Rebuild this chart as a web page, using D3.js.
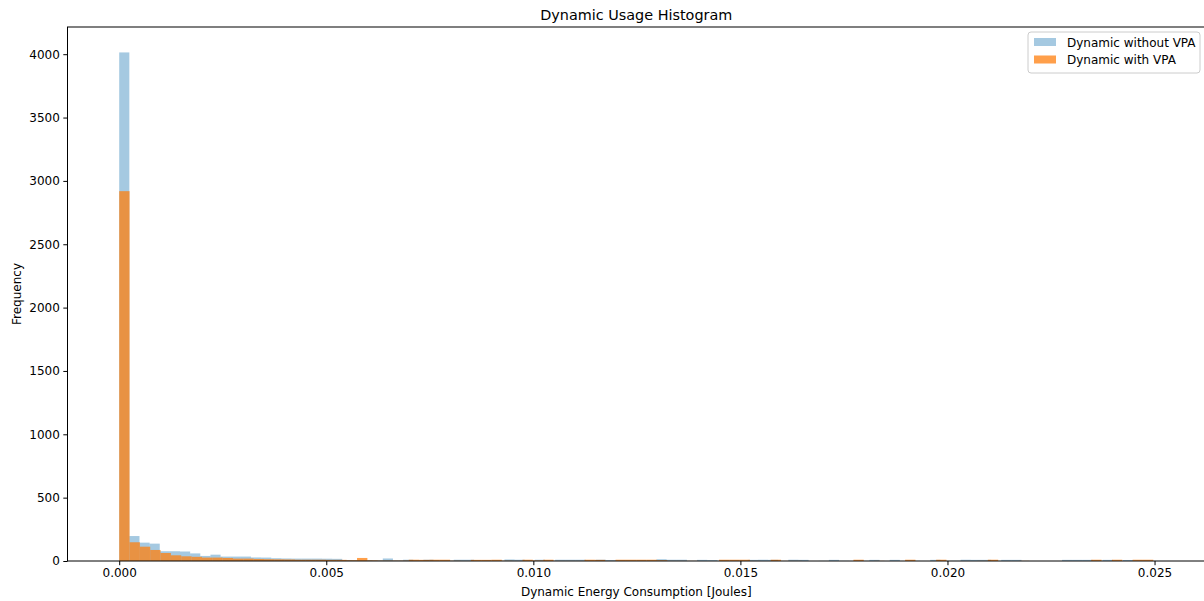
<!DOCTYPE html>
<html>
<head>
<meta charset="utf-8">
<script src="https://cdn.jsdelivr.net/npm/d3@7"></script>
<style>
  html, body { margin: 0; padding: 0; background: #fff; }
  svg { display: block; font-family: "DejaVu Sans", sans-serif; }
</style>
</head>
<body>
<div id="chart"></div>
<script>
// Series names
const seriesNames = ['Dynamic without VPA', 'Dynamic with VPA'];

// Value range covered by each series' 100 bins (Joules)
const withoutRange = [0, 0.02448];
const withRange = [0, 0.02497];

// Counts per bin
const withoutCounts = [
  4014, 197, 145, 137, 77, 77, 75, 60, 40, 50,
  35, 35, 35, 28, 27, 22, 20, 19, 19, 19,
  18, 17, 8, 7, 7, 5, 20, 4, 10, 2,
  10, 1, 2, 10, 10, 1, 2, 1, 12, 10,
  1, 10, 2, 10, 10, 10, 1, 10, 8, 2,
  1, 2, 1, 14, 10, 10, 1, 9, 7, 1,
  0, 1, 9, 10, 9, 0, 10, 9, 0, 1,
  9, 1, 0, 1, 9, 0, 9, 0, 1, 0,
  9, 0, 1, 10, 9, 9, 1, 9, 9, 0,
  0, 0, 0, 9, 9, 9, 1, 9, 0, 8
];
const withCounts = [
  2919, 148, 113, 87, 63, 45, 37, 33, 27, 27,
  24, 19, 19, 16, 14, 13, 12, 10, 10, 10,
  9, 9, 6, 24, 5, 3, 3, 3, 10, 9,
  10, 10, 2, 1, 9, 9, 10, 2, 1, 10,
  4, 10, 1, 1, 1, 10, 9, 1, 10, 10,
  10, 10, 6, 1, 1, 1, 0, 0, 10, 10,
  10, 1, 0, 10, 1, 1, 0, 0, 0, 0,
  0, 10, 0, 1, 0, 0, 10, 0, 0, 10,
  0, 0, 0, 1, 10, 0, 0, 1, 0, 0,
  0, 0, 0, 0, 10, 0, 10, 0, 10, 10
];

// Tick labels
const xTicks = [0, 0.005, 0.010, 0.015, 0.020, 0.025];
const yTicks = [0, 500, 1000, 1500, 2000, 2500, 3000, 3500, 4000];

// turn counts + range into bins
function makeBins(counts, range) {
  const w = (range[1] - range[0]) / counts.length;
  return counts.map((c, i) => ({ x0: range[0] + i * w, x1: range[0] + (i + 1) * w, count: c }));
}

const series = [
  { name: seriesNames[0], bins: makeBins(withoutCounts, withoutRange), color: '#1f77b4', opacity: 0.4 },
  { name: seriesNames[1], bins: makeBins(withCounts, withRange), color: '#ff7f0e', opacity: 0.75 }
];

// Dimensions
const W = 1204, H = 601;
const margin = { top: 27, right: -1, bottom: 40, left: 67.5 };
const width = W - margin.left - margin.right;
const height = H - margin.top - margin.bottom;

const svg = d3.select('#chart')
  .append('svg')
  .attr('width', W)
  .attr('height', H);

const g = svg.append('g')
  .attr('transform', `translate(${margin.left},${margin.top})`);

// Scales, with matplotlib style 5% padding on x
const xMin = d3.min([withoutRange[0], withRange[0]]);
const xMax = d3.max([withoutRange[1], withRange[1]]);
const pad = (xMax - xMin) * 0.05;
const xScale = d3.scaleLinear()
  .domain([xMin - pad, xMax + pad])
  .range([0, width]);

const yMax = d3.max([...withoutCounts, ...withCounts]) * 1.05;
const yScale = d3.scaleLinear()
  .domain([0, yMax])
  .range([height, 0]);

// Bars
series.forEach(s => {
  g.append('g')
    .selectAll('rect')
    .data(s.bins.filter(d => d.count > 0))
    .enter().append('rect')
    .attr('x', d => xScale(d.x0))
    .attr('y', d => yScale(d.count))
    .attr('width', d => xScale(d.x1) - xScale(d.x0))
    .attr('height', d => yScale(0) - yScale(d.count))
    .attr('fill', s.color)
    .attr('fill-opacity', s.opacity);
});

// Axes
const xAxis = g.append('g')
  .attr('transform', `translate(0,${height})`)
  .call(d3.axisBottom(xScale).tickValues(xTicks).tickFormat(d3.format('.3f')).tickSize(4.2).tickPadding(3.5));

const yAxis = g.append('g')
  .call(d3.axisLeft(yScale).tickValues(yTicks).tickFormat(d3.format('d')).tickSize(4.2).tickPadding(3.5));

[xAxis, yAxis].forEach(a => {
  a.select('.domain').remove();
  a.selectAll('.tick line').attr('stroke', '#000').attr('stroke-width', 1);
  a.selectAll('.tick text')
    .attr('fill', '#000')
    .style('font-size', '12px')
    .style('font-family', '"DejaVu Sans", sans-serif');
});

// Spines
g.append('rect')
  .attr('x', 0)
  .attr('y', 0)
  .attr('width', width)
  .attr('height', height)
  .attr('fill', 'none')
  .attr('stroke', '#000')
  .attr('stroke-width', 1);

// Title and axis labels
svg.append('text')
  .attr('x', margin.left + width / 2)
  .attr('y', 20)
  .attr('text-anchor', 'middle')
  .style('font-size', '14.4px')
  .text('Dynamic Usage Histogram');

svg.append('text')
  .attr('x', margin.left + width / 2)
  .attr('y', 596)
  .attr('text-anchor', 'middle')
  .style('font-size', '12px')
  .text('Dynamic Energy Consumption [Joules]');

svg.append('text')
  .attr('transform', `translate(21,${margin.top + height / 2}) rotate(-90)`)
  .attr('text-anchor', 'middle')
  .style('font-size', '12px')
  .text('Frequency');

// Legend
const legend = svg.append('g')
  .attr('transform', 'translate(1028,32)');

legend.append('rect')
  .attr('width', 172)
  .attr('height', 41)
  .attr('rx', 3)
  .attr('fill', '#fff')
  .attr('fill-opacity', 0.8)
  .attr('stroke', '#ccc')
  .attr('stroke-width', 1);

series.forEach((s, i) => {
  const row = legend.append('g').attr('transform', `translate(6,${6 + i * 17.5})`);
  row.append('rect')
    .attr('width', 22)
    .attr('height', 8)
    .attr('fill', s.color)
    .attr('fill-opacity', s.opacity);
  row.append('text')
    .attr('x', 33)
    .attr('y', 8.5)
    .style('font-size', '12px')
    .text(s.name);
});
</script>
</body>
</html>
